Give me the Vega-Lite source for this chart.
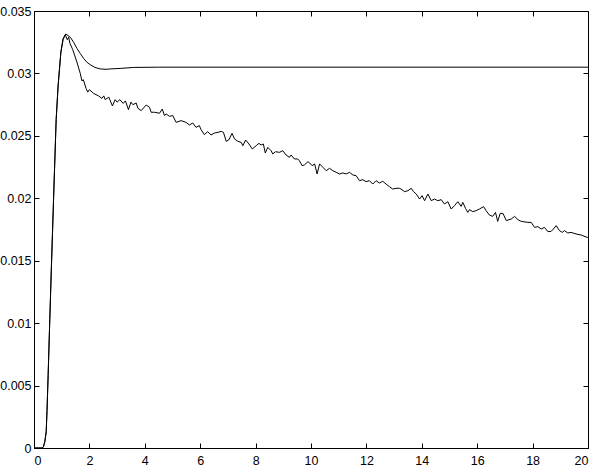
{
  "$schema": "https://vega.github.io/schema/vega-lite/v6.json",
  "width": 554,
  "height": 437,
  "autosize": {"type": "none"},
  "padding": {"left": 34, "top": 11, "right": 11, "bottom": 19},
  "background": "white",
  "config": {
    "view": {"stroke": null},
    "axis": {
      "grid": false,
      "domainColor": "black",
      "domainWidth": 1,
      "tickColor": "black",
      "tickWidth": 1,
      "tickSize": -5,
      "labelFont": "Liberation Sans",
      "labelFontSize": 12.5,
      "labelColor": "black",
      "title": null
    }
  },
  "datasets": {
    "smooth": [
      {"x": 0, "y": 0}, {"x": 0.3, "y": 0}, {"x": 0.34, "y": 0.0001}, {"x": 0.39, "y": 0.0005},
      {"x": 0.44, "y": 0.0013}, {"x": 0.47, "y": 0.003}, {"x": 0.51, "y": 0.0058}, {"x": 0.57, "y": 0.0103},
      {"x": 0.63, "y": 0.0146}, {"x": 0.72, "y": 0.0209}, {"x": 0.8, "y": 0.0263}, {"x": 0.87, "y": 0.029},
      {"x": 0.97, "y": 0.0317}, {"x": 1.05, "y": 0.0328}, {"x": 1.15, "y": 0.03316}, {"x": 1.31, "y": 0.0329},
      {"x": 1.43, "y": 0.0325}, {"x": 1.55, "y": 0.032}, {"x": 1.67, "y": 0.0316}, {"x": 1.79, "y": 0.0312},
      {"x": 1.91, "y": 0.0309}, {"x": 2.03, "y": 0.0307}, {"x": 2.2, "y": 0.03048}, {"x": 2.39, "y": 0.03036},
      {"x": 2.6, "y": 0.03033}, {"x": 2.75, "y": 0.03036}, {"x": 3.11, "y": 0.0304}, {"x": 3.59, "y": 0.03048},
      {"x": 4.5, "y": 0.0305}, {"x": 20, "y": 0.0305}
    ],
    "noisy": [
      {"x": 0, "y": 0}, {"x": 0.3, "y": 0}, {"x": 0.34, "y": 0.0001}, {"x": 0.39, "y": 0.0005},
      {"x": 0.44, "y": 0.0013}, {"x": 0.47, "y": 0.003}, {"x": 0.51, "y": 0.0058}, {"x": 0.57, "y": 0.0103},
      {"x": 0.63, "y": 0.0146}, {"x": 0.72, "y": 0.0209}, {"x": 0.8, "y": 0.0263}, {"x": 0.87, "y": 0.029},
      {"x": 0.97, "y": 0.0317}, {"x": 1.05, "y": 0.0327}, {"x": 1.13, "y": 0.0331}, {"x": 1.2, "y": 0.0327},
      {"x": 1.25, "y": 0.0329}, {"x": 1.3, "y": 0.0324}, {"x": 1.4, "y": 0.0319}, {"x": 1.55, "y": 0.0309},
      {"x": 1.67, "y": 0.03}, {"x": 1.73, "y": 0.0294}, {"x": 1.78, "y": 0.0295}, {"x": 1.88, "y": 0.0288},
      {"x": 1.94, "y": 0.0285}, {"x": 2.0, "y": 0.0287}, {"x": 2.15, "y": 0.0284}, {"x": 2.33, "y": 0.0282},
      {"x": 2.45, "y": 0.028}, {"x": 2.52, "y": 0.0282}, {"x": 2.57, "y": 0.0279}, {"x": 2.7, "y": 0.0281},
      {"x": 2.83, "y": 0.0274}, {"x": 2.93, "y": 0.0279}, {"x": 3.0, "y": 0.0277}, {"x": 3.1, "y": 0.0279},
      {"x": 3.22, "y": 0.0276}, {"x": 3.3, "y": 0.0278}, {"x": 3.41, "y": 0.0271}, {"x": 3.5, "y": 0.0277},
      {"x": 3.57, "y": 0.0275}, {"x": 3.69, "y": 0.02763}, {"x": 3.75, "y": 0.02721}, {"x": 3.87, "y": 0.02702},
      {"x": 4.05, "y": 0.02747}, {"x": 4.17, "y": 0.02729}, {"x": 4.23, "y": 0.02689}, {"x": 4.35, "y": 0.02689},
      {"x": 4.53, "y": 0.02681}, {"x": 4.63, "y": 0.02715}, {"x": 4.71, "y": 0.02662}, {"x": 4.77, "y": 0.02675},
      {"x": 4.89, "y": 0.02657}, {"x": 5.01, "y": 0.02662}, {"x": 5.13, "y": 0.02608}, {"x": 5.31, "y": 0.02622},
      {"x": 5.49, "y": 0.02608}, {"x": 5.61, "y": 0.02587}, {"x": 5.73, "y": 0.02603}, {"x": 5.85, "y": 0.02568},
      {"x": 5.97, "y": 0.02582}, {"x": 6.03, "y": 0.0255}, {"x": 6.15, "y": 0.0251}, {"x": 6.27, "y": 0.02534},
      {"x": 6.39, "y": 0.02507}, {"x": 6.52, "y": 0.02523}, {"x": 6.64, "y": 0.02528}, {"x": 6.76, "y": 0.02536},
      {"x": 6.84, "y": 0.02528}, {"x": 6.94, "y": 0.02456}, {"x": 7.03, "y": 0.02467}, {"x": 7.15, "y": 0.0252},
      {"x": 7.24, "y": 0.02475}, {"x": 7.36, "y": 0.02456}, {"x": 7.48, "y": 0.02448}, {"x": 7.54, "y": 0.02421},
      {"x": 7.64, "y": 0.02467}, {"x": 7.76, "y": 0.02435}, {"x": 7.88, "y": 0.02395}, {"x": 8.02, "y": 0.02421},
      {"x": 8.12, "y": 0.0244}, {"x": 8.2, "y": 0.02427}, {"x": 8.28, "y": 0.02435}, {"x": 8.35, "y": 0.02363},
      {"x": 8.44, "y": 0.02408}, {"x": 8.56, "y": 0.02381}, {"x": 8.62, "y": 0.02355}, {"x": 8.72, "y": 0.02373},
      {"x": 8.86, "y": 0.02368}, {"x": 8.98, "y": 0.02381}, {"x": 9.1, "y": 0.02347}, {"x": 9.22, "y": 0.02328},
      {"x": 9.28, "y": 0.02347}, {"x": 9.4, "y": 0.02315}, {"x": 9.52, "y": 0.02315}, {"x": 9.58, "y": 0.02301},
      {"x": 9.68, "y": 0.02261}, {"x": 9.76, "y": 0.02267}, {"x": 9.89, "y": 0.02293}, {"x": 9.95, "y": 0.02283},
      {"x": 10.04, "y": 0.02261}, {"x": 10.13, "y": 0.02275}, {"x": 10.22, "y": 0.02195}, {"x": 10.31, "y": 0.02275},
      {"x": 10.43, "y": 0.02248}, {"x": 10.55, "y": 0.02221}, {"x": 10.67, "y": 0.0224}, {"x": 10.79, "y": 0.02221},
      {"x": 10.91, "y": 0.02208}, {"x": 11.03, "y": 0.02195}, {"x": 11.15, "y": 0.02203}, {"x": 11.27, "y": 0.02195},
      {"x": 11.39, "y": 0.02208}, {"x": 11.51, "y": 0.02187}, {"x": 11.63, "y": 0.02181}, {"x": 11.75, "y": 0.02141},
      {"x": 11.87, "y": 0.02149}, {"x": 11.99, "y": 0.02133}, {"x": 12.11, "y": 0.02141}, {"x": 12.23, "y": 0.02114},
      {"x": 12.35, "y": 0.02141}, {"x": 12.47, "y": 0.02122}, {"x": 12.59, "y": 0.02136}, {"x": 12.71, "y": 0.02114},
      {"x": 12.83, "y": 0.02093}, {"x": 12.95, "y": 0.02074}, {"x": 13.07, "y": 0.0208}, {"x": 13.19, "y": 0.0208},
      {"x": 13.25, "y": 0.02074}, {"x": 13.38, "y": 0.02053}, {"x": 13.5, "y": 0.02061}, {"x": 13.62, "y": 0.0208},
      {"x": 13.7, "y": 0.02053}, {"x": 13.8, "y": 0.02034}, {"x": 13.92, "y": 0.01994}, {"x": 14.01, "y": 0.02021},
      {"x": 14.1, "y": 0.01981}, {"x": 14.22, "y": 0.02034}, {"x": 14.34, "y": 0.01981}, {"x": 14.46, "y": 0.01994},
      {"x": 14.58, "y": 0.01981}, {"x": 14.7, "y": 0.01989}, {"x": 14.82, "y": 0.01954}, {"x": 14.94, "y": 0.01973},
      {"x": 15.06, "y": 0.01914}, {"x": 15.18, "y": 0.01941}, {"x": 15.3, "y": 0.01973}, {"x": 15.42, "y": 0.01935},
      {"x": 15.48, "y": 0.01967}, {"x": 15.58, "y": 0.01919}, {"x": 15.66, "y": 0.01887}, {"x": 15.72, "y": 0.01909},
      {"x": 15.84, "y": 0.01893}, {"x": 15.96, "y": 0.01901}, {"x": 16.08, "y": 0.01914}, {"x": 16.23, "y": 0.01933},
      {"x": 16.32, "y": 0.01901}, {"x": 16.44, "y": 0.01866}, {"x": 16.56, "y": 0.01855}, {"x": 16.66, "y": 0.01887},
      {"x": 16.74, "y": 0.01815}, {"x": 16.83, "y": 0.01879}, {"x": 16.93, "y": 0.01879}, {"x": 17.05, "y": 0.01821},
      {"x": 17.23, "y": 0.01834}, {"x": 17.35, "y": 0.01855}, {"x": 17.47, "y": 0.01829}, {"x": 17.59, "y": 0.01815},
      {"x": 17.83, "y": 0.01807}, {"x": 17.95, "y": 0.01807}, {"x": 18.07, "y": 0.01767}, {"x": 18.19, "y": 0.01773},
      {"x": 18.31, "y": 0.01754}, {"x": 18.43, "y": 0.01767}, {"x": 18.55, "y": 0.01733}, {"x": 18.67, "y": 0.01735},
      {"x": 18.75, "y": 0.01754}, {"x": 18.85, "y": 0.01781}, {"x": 18.97, "y": 0.01741}, {"x": 19.07, "y": 0.01727},
      {"x": 19.15, "y": 0.01741}, {"x": 19.27, "y": 0.01722}, {"x": 19.39, "y": 0.01727}, {"x": 19.57, "y": 0.01714},
      {"x": 19.75, "y": 0.01706}, {"x": 19.97, "y": 0.01687}, {"x": 20, "y": 0.01686}
    ]
  },
  "layer": [
    {
      "data": {"name": "smooth"},
      "mark": {"type": "line", "color": "black", "strokeWidth": 1, "clip": true},
      "encoding": {
        "x": {"field": "x", "type": "quantitative",
              "scale": {"domain": [0, 20], "nice": false, "zero": false},
              "axis": {"orient": "bottom", "values": [0, 2, 4, 6, 8, 10, 12, 14, 16, 18, 20], "labelPadding": 11}},
        "y": {"field": "y", "type": "quantitative",
              "scale": {"domain": [0, 0.035], "nice": false, "zero": false},
              "axis": {"orient": "left", "values": [0, 0.005, 0.01, 0.015, 0.02, 0.025, 0.03, 0.035], "format": "~g", "labelPadding": 8}}
      }
    },
    {
      "data": {"name": "noisy"},
      "mark": {"type": "line", "color": "black", "strokeWidth": 1, "clip": true},
      "encoding": {
        "x": {"field": "x", "type": "quantitative",
              "axis": {"orient": "top", "values": [0, 2, 4, 6, 8, 10, 12, 14, 16, 18, 20], "labels": false}},
        "y": {"field": "y", "type": "quantitative",
              "axis": {"orient": "right", "values": [0, 0.005, 0.01, 0.015, 0.02, 0.025, 0.03, 0.035], "labels": false}}
      }
    }
  ],
  "resolve": {"axis": {"x": "independent", "y": "independent"}}
}
